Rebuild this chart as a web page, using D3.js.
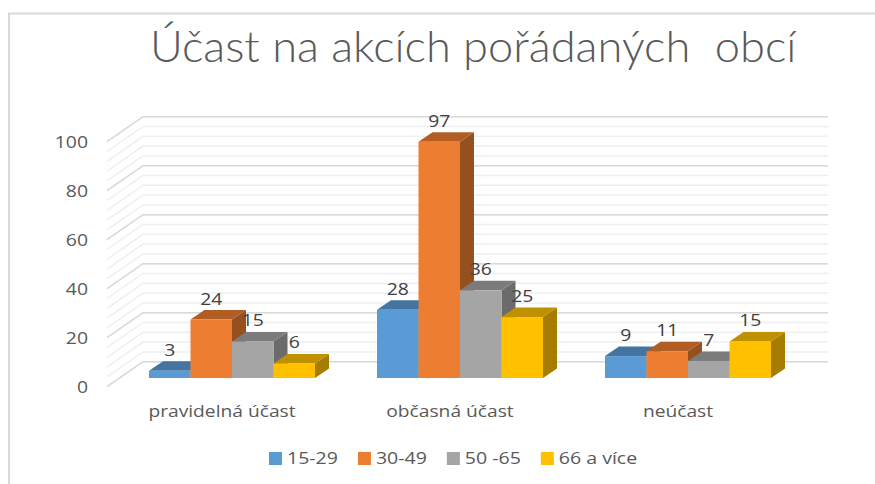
<!DOCTYPE html>
<html>
<head>
<meta charset="utf-8">
<script src="https://cdn.jsdelivr.net/npm/d3@7/dist/d3.min.js"></script>
<style>
  html, body { margin: 0; padding: 0; background: #fff; }
  svg { display: block; }
  text { font-family: "Open Sans", sans-serif; fill: #595959; white-space: pre; }
</style>
</head>
<body>
<div id="chart"></div>
<script>

var titleText = 'Účast na akcích pořádaných  obcí';
var categories = ['pravidelná účast', 'občasná účast', 'neúčast'];
var seriesNames = ['15-29', '30-49', '50 -65', '66 a více'];
var seriesColors = ['#5b9bd5', '#ed7d31', '#a5a5a5', '#ffc000'];
var topColors = ['#44749f', '#b15d24', '#7b7b7b', '#bf9000'];
var sideColors = ['#3d6a92', '#964f1f', '#6b6b6b', '#a67d00'];
var ageYoung = [3, 28, 9];
var ageMid = [24, 97, 11];
var ageOlder = [15, 36, 7];
var ageOld = [6, 25, 15];
var majorTicks = [0, 20, 40, 60, 80, 100];
var minorTicks = d3.range(0, 101, 4);

var series = [ageYoung, ageMid, ageOlder, ageOld];

var width = 875, height = 484;

var svg = d3.select('#chart').append('svg')
  .attr('width', width).attr('height', height);

// The reference text is a horizontally stretched screenshot.
function stretch(sel, factor) {
  sel.each(function() {
    var len = this.getComputedTextLength();
    d3.select(this)
      .attr('textLength', len * factor)
      .attr('lengthAdjust', 'spacingAndGlyphs');
  });
  return sel;
}

// Chart frame, only the top and left edges are in shot.
svg.append('path')
  .attr('d', 'M9,484V13.5H875')
  .attr('fill', 'none')
  .attr('stroke', '#d9d9d9')
  .attr('stroke-width', 2);

svg.append('text')
  .attr('x', 150).attr('y', 62)
  .attr('font-size', 43)
  .style('font-family', 'Lato, sans-serif')
  .style('font-weight', 300)
  .text(titleText)
  .call(stretch, 1.052);

// Value scales for the back wall and for the front of the bars.
var yBack = d3.scaleLinear().domain([0, 100]).range([361.7, 116.7]);
var yBar = d3.scaleLinear().domain([0, 100]).range([378, 134.4]);

var x0 = d3.scaleBand().domain(categories).range([118, 802]);
var x1 = d3.scaleBand()
  .domain(d3.range(seriesNames.length))
  .range([0, 166]);

var wallLeft = 143, wallRight = 828;
var wallDx = 36, wallDy = 25;
var barDx = 14, barDy = 9.5;

// Gridlines: along the side wall, then across the back wall.
var grid = svg.append('g').attr('fill', 'none');

function gridPath(d) {
  var y = yBack(d);
  return 'M' + (wallLeft - wallDx) + ',' + (y + wallDy) +
    'L' + wallLeft + ',' + y + 'H' + wallRight;
}

grid.selectAll('path.minor').data(minorTicks).enter().append('path')
  .attr('class', 'minor')
  .attr('d', gridPath)
  .attr('stroke', '#efefef')
  .attr('stroke-width', 1.5);

grid.selectAll('path.major').data(majorTicks).enter().append('path')
  .attr('class', 'major')
  .attr('d', gridPath)
  .attr('stroke', '#d9d9d9')
  .attr('stroke-width', 1.5);

svg.append('g').selectAll('text').data(majorTicks).enter().append('text')
  .attr('x', 88)
  .attr('y', function(d) { return yBack(d) + wallDy; })
  .attr('dy', '0.35em')
  .attr('text-anchor', 'end')
  .attr('font-size', 17)
  .text(function(d) { return d; })
  .call(stretch, 1.14);

// Bars, drawn left to right so that later bars overlap earlier sides.
var bars = svg.append('g');

categories.forEach(function(cat, c) {
  var groupX = x0(cat) + (x0.bandwidth() - 166) / 2;
  series.forEach(function(values, s) {
    var v = values[c];
    var left = groupX + x1(s);
    var right = left + x1.bandwidth();
    var top = yBar(v);
    var base = yBar(0);
    var g = bars.append('g');

    g.append('path')
      .attr('fill', sideColors[s])
      .attr('d', 'M' + right + ',' + top +
        'l' + barDx + ',' + (-barDy) +
        'V' + (base - barDy) +
        'L' + right + ',' + base + 'Z');

    g.append('path')
      .attr('fill', topColors[s])
      .attr('d', 'M' + left + ',' + top +
        'l' + barDx + ',' + (-barDy) +
        'H' + (right + barDx) +
        'L' + right + ',' + top + 'Z');

    g.append('rect')
      .attr('x', left).attr('y', top)
      .attr('width', x1.bandwidth())
      .attr('height', base - top)
      .attr('fill', seriesColors[s]);
  });
});

// Value labels go on last, the reference has them over the bars.
categories.forEach(function(cat, c) {
  var groupX = x0(cat) + (x0.bandwidth() - 166) / 2;
  series.forEach(function(values, s) {
    svg.append('text')
      .attr('x', groupX + x1(s) + x1.bandwidth() / 2)
      .attr('y', yBar(values[c]) - 15)
      .attr('text-anchor', 'middle')
      .attr('font-size', 17)
      .style('fill', '#404040')
      .text(values[c])
      .call(stretch, 1.14);
  });
});

svg.append('g').selectAll('text').data(categories).enter().append('text')
  .attr('x', function(d) { return x0(d) + x0.bandwidth() / 2 - 10; })
  .attr('y', 417)
  .attr('text-anchor', 'middle')
  .attr('font-size', 16)
  .text(function(d) { return d; })
  .call(stretch, 1.2);

// Legend, positions follow the text widths (stretched length is reported).
var legend = svg.append('g');
var legendX = 269;
seriesNames.forEach(function(name, s) {
  legend.append('rect')
    .attr('x', legendX).attr('y', 452)
    .attr('width', 13).attr('height', 13)
    .attr('fill', seriesColors[s]);
  var label = legend.append('text')
    .attr('x', legendX + 18).attr('y', 464)
    .attr('font-size', 16)
    .text(name)
    .call(stretch, 1.22);
  legendX += 18 + label.node().getComputedTextLength() + 20;
});

</script>
</body>
</html>
